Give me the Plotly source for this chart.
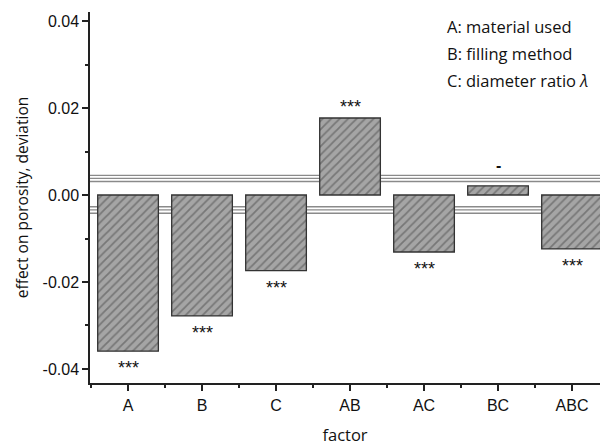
import plotly.graph_objects as go

# Factor effects on porosity (deviation from mean)
factors = ["A", "B", "C", "AB", "AC", "BC", "ABC"]
effects = [-0.0359, -0.0278, -0.0174, 0.0177, -0.0131, 0.0021, -0.0124]
significance = ["***", "***", "***", "***", "***", "-", "***"]

# Significance threshold lines (upper and lower bands)
upper_limits = [0.0031, 0.0038, 0.0045]
lower_limits = [-0.0027, -0.0034, -0.0042]

# Factor legend text
factor_notes = ["A: material used", "B: filling method", "C: diameter ratio <i>λ</i>"]

y_tick_vals = [0.04, 0.02, 0.0, -0.02, -0.04]
y_tick_text = ["0.04", "0.02", "0.00", "-0.02", "-0.04"]

x_pos = list(range(len(factors)))

fig = go.Figure()
fig.add_trace(go.Bar(
    x=x_pos,
    y=effects,
    width=0.82,
    marker=dict(
        color="#a5a5a5",
        line=dict(color="#333333", width=1.3),
        pattern=dict(shape="/", fgcolor="#4a4a4a", bgcolor="#a5a5a5",
                     size=6, solidity=0.3),
    ),
    showlegend=False,
))

# threshold lines behind bars
for v in upper_limits + lower_limits:
    fig.add_shape(type="line", xref="paper", x0=0, x1=1, yref="y", y0=v, y1=v,
                  line=dict(color="#8a8a8a", width=1.3), layer="below")

# significance markers next to each bar
for xi, v, s in zip(x_pos, effects, significance):
    if s == "-":
        text, size, shift = "<b>-</b>", 16, 10
    else:
        text, size, shift = s, 18, -1
    fig.add_annotation(
        x=xi, y=v, text=text, showarrow=False,
        yanchor="top" if v < 0 else "bottom",
        yshift=-5 if v < 0 else shift,
        font=dict(family="Liberation Sans, Arial", size=size, color="#111"),
    )

for i, note in enumerate(factor_notes):
    fig.add_annotation(
        xref="paper", yref="paper", x=0.697, y=0.962 - i * 0.0728,
        xanchor="left", yanchor="middle", showarrow=False, text=note,
        font=dict(family="Open Sans", size=16.5, color="#111"),
    )

fig.update_layout(
    width=600, height=446,
    margin=dict(l=90, r=0, t=12, b=63),
    plot_bgcolor="white", paper_bgcolor="white",
    xaxis=dict(
        range=[-0.514, 6.378],
        automargin=False,
        tickmode="array", tickvals=x_pos, ticktext=factors,
        ticks="outside", ticklen=6, tickwidth=1.5, tickcolor="#222",
        ticklabelstandoff=1,
        showline=True, linecolor="#222", linewidth=1.5,
        showgrid=False, zeroline=False,
        minor=dict(ticks="outside", ticklen=3, tickwidth=1.5, tickcolor="#222",
                   tick0=0.5, dtick=1, showgrid=False),
        tickfont=dict(family="Liberation Sans, Arial", size=16, color="#111"),
        title=dict(text="factor", standoff=28,
                   font=dict(family="Open Sans", size=16.5, color="#111")),
    ),
    yaxis=dict(
        range=[-0.04322, 0.04207],
        automargin=False,
        tickmode="array", tickvals=y_tick_vals, ticktext=y_tick_text,
        ticks="outside", ticklen=6, tickwidth=1.5, tickcolor="#222",
        showline=True, linecolor="#222", linewidth=1.5,
        showgrid=False, zeroline=False,
        minor=dict(ticks="outside", ticklen=3, tickwidth=1.5, tickcolor="#222",
                   tick0=0, dtick=0.01, showgrid=False),
        tickfont=dict(family="Liberation Sans, Arial", size=16, color="#111"),
        title=dict(text="effect on porosity, deviation", standoff=10,
                   font=dict(family="Open Sans", size=15.5, color="#111")),
    ),
)

fig.write_html("out.html")
